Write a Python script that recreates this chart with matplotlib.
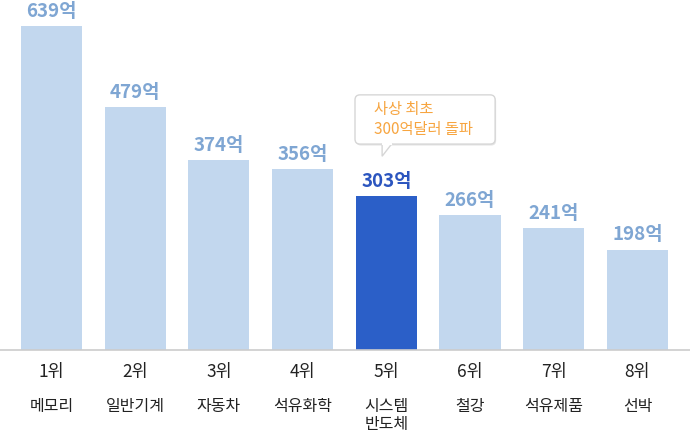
import matplotlib
matplotlib.use("Agg")
import matplotlib.pyplot as plt
from matplotlib.patches import FancyBboxPatch, Polygon

plt.rcParams['font.family'] = ['Noto Sans CJK KR', 'DejaVu Sans']

ranks = ['1위', '2위', '3위', '4위', '5위', '6위', '7위', '8위']
items = ['메모리', '일반기계', '자동차', '석유화학', '시스템\n반도체', '철강', '석유제품', '선박']
values = [639, 479, 374, 356, 303, 266, 241, 198]
highlight = 4
callout_lines = ['사상 최초', '300억달러 돌파']

light_bar = '#c2d7ee'
dark_bar = '#2b5fc8'
light_label = '#7fa6d3'
dark_label = '#2b55bf'

fig = plt.figure(figsize=(6.9, 4.35), dpi=100)
ax = fig.add_axes([0, 84 / 435, 1, 351 / 435])

x = list(range(len(values)))
colors = [dark_bar if i == highlight else light_bar for i in x]
ax.bar(x, values, width=0.73, color=colors, zorder=2)

ax.set_xlim(-0.615, 7.628)
ax.set_ylim(0, 692)

for i, v in zip(x, values):
    c = dark_label if i == highlight else light_label
    ax.text(i, v + 12, f'{v}억', ha='center', va='bottom', fontsize=13.5,
            fontweight='bold', color=c)

# labels under the axis
tr = ax.get_xaxis_transform()
for i in x:
    ax.text(i, -21 / 351, ranks[i], transform=tr, ha='center', va='center',
            fontsize=12.5, color='#222222')
    ax.text(i, -47 / 351, items[i], transform=tr, ha='center', va='top',
            fontsize=11.5, color='#222222', linespacing=1.05)

for s in ['top', 'right', 'left']:
    ax.spines[s].set_visible(False)
ax.spines['bottom'].set_color('#cccccc')
ax.spines['bottom'].set_linewidth(1.2)
ax.set_xticks([])
ax.set_yticks([])

# callout box over bar 5
bx0, bx1 = highlight - 0.374, highlight + 1.30
by0, by1 = 406, 503
asp = 165
shadow = FancyBboxPatch((bx0 + 0.012, by0 - 3), bx1 - bx0, by1 - by0,
                        boxstyle='round,pad=0,rounding_size=0.06',
                        mutation_aspect=asp, facecolor='#e6e6e6',
                        edgecolor='none', zorder=3)
ax.add_patch(shadow)
box = FancyBboxPatch((bx0, by0), bx1 - bx0, by1 - by0,
                     boxstyle='round,pad=0,rounding_size=0.06',
                     mutation_aspect=asp, facecolor='white',
                     edgecolor='#d6d6d6', linewidth=1, zorder=4)
ax.add_patch(box)
px0, px1 = highlight - 0.05, highlight + 0.07
ptr = Polygon([(px0, by0 + 1.5), (px0, by0 - 24), (px1, by0 + 1.5)],
              closed=False, facecolor='white', edgecolor='#d6d6d6',
              linewidth=1, zorder=5)
ax.add_patch(ptr)
ax.plot([px0 + 0.008, px1 - 0.008], [by0 + 0.5, by0 + 0.5], color='white',
        linewidth=1.6, zorder=6)

ax.text(highlight - 0.143, 477, callout_lines[0], ha='left', va='center',
        fontsize=11, fontweight='medium', color='#f7a540', zorder=7)
ax.text(highlight - 0.143, 436, callout_lines[1], ha='left', va='center',
        fontsize=11, fontweight='medium', color='#f7a540', zorder=7)

fig.savefig('out.png', dpi=100)
